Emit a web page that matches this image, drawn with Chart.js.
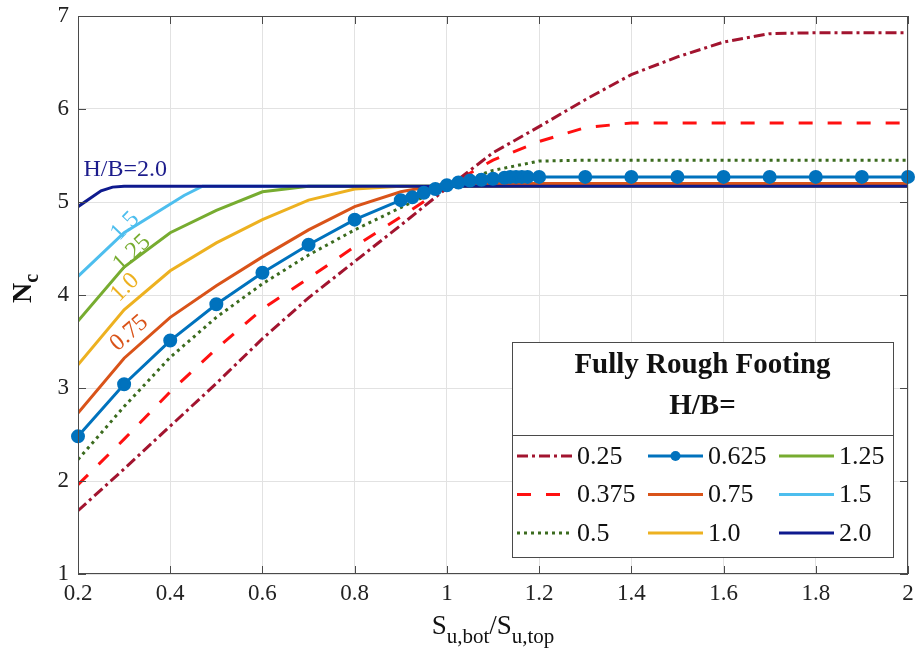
<!DOCTYPE html>
<html>
<head>
<meta charset="utf-8">
<script src="https://cdn.jsdelivr.net/npm/chart.js@4"></script>
<style>
  html, body { margin: 0; padding: 0; background: #fff; }
  #wrap { width: 919px; height: 660px; }
</style>
</head>
<body>
<div id="wrap"><canvas id="ncChart"></canvas></div>
<script>
// S_u,bot / S_u,top grid used by most curves
var xGrid = [0.2,0.3,0.4,0.5,0.6,0.7,0.8,0.9,1.0,1.1,1.2,1.3,1.4,1.5,1.6,1.7,1.8,1.9,2.0];

// Nc values for each H/B
var nc025  = [1.68,2.13,2.59,3.05,3.53,3.97,4.36,4.75,5.15,5.53,5.81,6.10,6.37,6.56,6.72,6.81,6.82,6.82,6.82];
var nc0375 = [1.96,2.45,2.96,3.42,3.85,4.18,4.52,4.84,5.17,5.45,5.65,5.80,5.85,5.85,5.85,5.85,5.85,5.85,5.85];
var nc05   = [2.23,2.80,3.33,3.76,4.12,4.43,4.70,4.94,5.17,5.34,5.44,5.45,5.45,5.45,5.45,5.45,5.45,5.45,5.45];
var nc075  = [2.73,3.32,3.76,4.10,4.41,4.70,4.95,5.11,5.20,5.20,5.20,5.20,5.20,5.20,5.20,5.20,5.20,5.20,5.20];
var nc10   = [3.25,3.84,4.26,4.56,4.81,5.02,5.14,5.17,5.17,5.17,5.17,5.17,5.17,5.17,5.17,5.17,5.17,5.17,5.17];
var nc125  = [3.72,4.30,4.67,4.91,5.11,5.17,5.17,5.17,5.17,5.17,5.17,5.17,5.17,5.17,5.17,5.17,5.17,5.17,5.17];

// curves with their own x points
var x0625  = [0.2,0.3,0.4,0.5,0.6,0.7,0.8,0.9,0.925,0.95,0.975,1.0,1.025,1.05,1.075,1.1,1.125,1.1375,1.15,1.1625,1.175,1.2,1.3,1.4,1.5,1.6,1.7,1.8,1.9,2.0];
var nc0625 = [2.48,3.04,3.51,3.90,4.24,4.54,4.81,5.02,5.05,5.10,5.14,5.18,5.21,5.23,5.24,5.25,5.26,5.27,5.27,5.27,5.27,5.27,5.27,5.27,5.27,5.27,5.27,5.27,5.27,5.27];
var x15    = [0.2,0.3,0.43,0.47,2.0];
var nc15   = [4.20,4.67,5.07,5.17,5.17];
var x20    = [0.2,0.25,0.275,0.3,2.0];
var nc20   = [4.95,5.12,5.16,5.17,5.17];

var xTicks = [0.2,0.4,0.6,0.8,1,1.2,1.4,1.6,1.8,2];
var yTicks = [1,2,3,4,5,6,7];

function pts(xs, ys) {
    return xs.map(function(v, i){ return {x: v, y: ys[i]}; });
}

var serif = "'Liberation Serif', 'DejaVu Serif', serif";
Chart.defaults.font.family = serif;
Chart.defaults.color = "#222";

// axis box, inward ticks, axis titles, curve labels and the boxed legend
var decor = {
    id: 'decor',
    afterDraw: function(chart) {
        var ctx = chart.ctx, a = chart.chartArea;
        var xs = chart.scales.x, ys = chart.scales.y;
        ctx.save();

        // box + ticks
        ctx.strokeStyle = "#4a4a4a";
        ctx.lineWidth = 1;
        ctx.strokeRect(a.left + 0.5, a.top + 0.5, a.right - a.left - 1, a.bottom - a.top - 1);
        ctx.beginPath();
        xTicks.forEach(function(t){
            var px = Math.round(xs.getPixelForValue(t)) + 0.5;
            ctx.moveTo(px, a.bottom); ctx.lineTo(px, a.bottom - 8);
            ctx.moveTo(px, a.top); ctx.lineTo(px, a.top + 8);
        });
        yTicks.forEach(function(t){
            var py = Math.round(ys.getPixelForValue(t)) + 0.5;
            ctx.moveTo(a.left, py); ctx.lineTo(a.left + 8, py);
            ctx.moveTo(a.right, py); ctx.lineTo(a.right - 8, py);
        });
        ctx.stroke();

        // x title  S_u,bot / S_u,top
        ctx.fillStyle = "#111";
        ctx.textBaseline = "alphabetic";
        var big = "27px " + serif, small = "21px " + serif;
        var parts = [["S", big, 0], ["u,bot", small, 9], ["/S", big, 0], ["u,top", small, 9]];
        var w = 0;
        parts.forEach(function(p){ ctx.font = p[1]; w += ctx.measureText(p[0]).width; });
        var cx = (a.left + a.right) / 2 - w / 2;
        parts.forEach(function(p){
            ctx.font = p[1];
            ctx.fillText(p[0], cx, 634 + p[2]);
            cx += ctx.measureText(p[0]).width;
        });

        // y title  N_c
        ctx.save();
        ctx.translate(31, (a.top + a.bottom) / 2 + 8);
        ctx.rotate(-Math.PI / 2);
        ctx.font = "bold 28px " + serif;
        ctx.textAlign = "left";
        ctx.fillText("N", 0, 0);
        var nw = ctx.measureText("N").width;
        ctx.font = "bold 20px " + serif;
        ctx.fillText("c", nw, 7);
        ctx.restore();

        // curve labels
        var labels = [
            ["H/B=2.0", 0.212, 5.35, 0, "#1c1c8c"],
            ["1.5", 0.302, 4.74, -46, "#4DBEEE"],
            ["1.25", 0.317, 4.45, -43, "#77AC30"],
            ["1.0", 0.302, 4.08, -45, "#EDB120"],
            ["0.75", 0.311, 3.59, -41, "#D95319"]
        ];
        ctx.font = "24px " + serif;
        ctx.textBaseline = "middle";
        labels.forEach(function(l, i){
            ctx.save();
            ctx.translate(xs.getPixelForValue(l[1]), ys.getPixelForValue(l[2]));
            ctx.rotate(l[3] * Math.PI / 180);
            ctx.textAlign = i === 0 ? "left" : "center";
            ctx.fillStyle = l[4];
            ctx.fillText(l[0], 0, 0);
            ctx.restore();
        });

        // legend box
        var bx = a.right - 396, by = a.bottom - 232, bw = 381, bh = 215;
        ctx.fillStyle = "#fff";
        ctx.fillRect(bx, by, bw, bh);
        ctx.strokeStyle = "#4a4a4a";
        ctx.strokeRect(bx + 0.5, by + 0.5, bw, bh);
        ctx.beginPath();
        ctx.moveTo(bx, by + 93.5); ctx.lineTo(bx + bw, by + 93.5);
        ctx.stroke();
        ctx.fillStyle = "#111";
        ctx.textAlign = "center";
        ctx.font = "bold 29px " + serif;
        ctx.fillText("Fully Rough Footing", bx + bw / 2, by + 24);
        ctx.fillText("H/B=", bx + bw / 2, by + 65);

        ctx.font = "26px " + serif;
        ctx.textAlign = "left";
        chart.data.datasets.forEach(function(ds, i){
            var col = Math.floor(i / 3), row = i % 3;
            var lx = bx + 5 + col * 131, ly = by + 114 + row * 38.5;
            ctx.save();
            ctx.strokeStyle = ds.borderColor;
            ctx.lineWidth = ds.borderWidth;
            ctx.setLineDash(ds.borderDash || []);
            ctx.beginPath();
            ctx.moveTo(lx, ly); ctx.lineTo(lx + 55, ly);
            ctx.stroke();
            if (ds.pointRadius > 0) {
                ctx.fillStyle = ds.borderColor;
                ctx.beginPath();
                ctx.arc(lx + 27.5, ly, 5, 0, Math.PI * 2);
                ctx.fill();
            }
            ctx.restore();
            ctx.fillText(ds.label, lx + 60, ly + 1);
        });
        ctx.restore();
    }
};

function line(label, data, color, dash, extra) {
    var ds = {
        label: label,
        data: data,
        borderColor: color,
        backgroundColor: color,
        borderWidth: 3,
        borderDash: dash,
        pointRadius: 0,
        tension: 0,
        fill: false
    };
    for (var k in extra) ds[k] = extra[k];
    return ds;
}

new Chart("ncChart", {
    type: "line",
    data: {
        datasets: [
            line("0.25", pts(xGrid, nc025), "#A2142F", [11, 4, 3, 4], {order: 1}),
            line("0.375", pts(xGrid, nc0375), "#FF1010", [14, 15], {order: 2}),
            line("0.5", pts(xGrid, nc05), "#3B6B1E", [3, 4], {order: 3}),
            line("0.625", pts(x0625, nc0625), "#0072BD", [], {order: 0, pointRadius: 5.5, pointHoverRadius: 5.5, clip: 8}),
            line("0.75", pts(xGrid, nc075), "#D95319", [], {order: 5}),
            line("1.0", pts(xGrid, nc10), "#EDB120", [], {order: 6}),
            line("1.25", pts(xGrid, nc125), "#77AC30", [], {order: 7}),
            line("1.5", pts(x15, nc15), "#4DBEEE", [], {order: 8}),
            line("2.0", pts(x20, nc20), "#0E1A8E", [], {order: 4})
        ]
    },
    options: {
        responsive: true,
        maintainAspectRatio: false,
        animation: false,
        layout: { padding: { top: 16, right: 11, left: 0, bottom: 0 } },
        plugins: {
            legend: { display: false },
            tooltip: { enabled: false }
        },
        scales: {
            x: {
                type: "linear",
                min: 0.2,
                max: 2,
                afterFit: function(s){ s.height = 86; s.paddingLeft = 0; s.paddingRight = 0; },
                afterBuildTicks: function(s){ s.ticks = xTicks.map(function(v){ return {value: v}; }); },
                ticks: {
                    padding: 6,
                    font: { size: 23 },
                    color: "#222",
                    callback: function(v){ return String(+Number(v).toFixed(2)); }
                },
                grid: { color: "#e2e2e2", lineWidth: 1, drawTicks: false },
                border: { display: false }
            },
            y: {
                min: 1,
                max: 7,
                afterFit: function(s){ s.width = 78; s.paddingTop = 0; s.paddingBottom = 0; },
                afterBuildTicks: function(s){ s.ticks = yTicks.map(function(v){ return {value: v}; }); },
                ticks: {
                    padding: 9,
                    font: { size: 23 },
                    color: "#222"
                },
                grid: { color: "#e2e2e2", lineWidth: 1, drawTicks: false },
                border: { display: false }
            }
        }
    },
    plugins: [decor]
});
</script>
</body>
</html>
